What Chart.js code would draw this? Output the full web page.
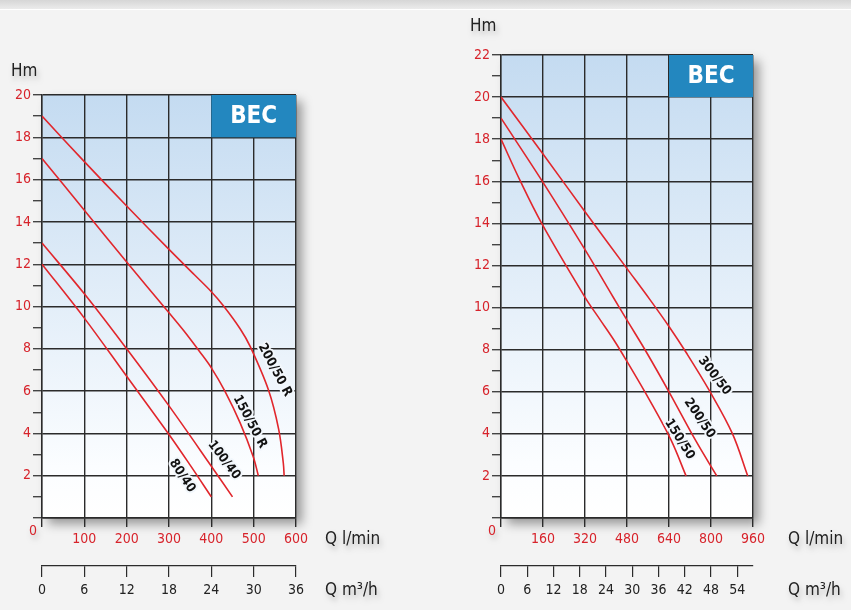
<!DOCTYPE html>
<html>
<head>
<meta charset="utf-8">
<script src="https://cdn.jsdelivr.net/npm/chart.js@4.4.1/dist/chart.umd.min.js"></script>
<style>
  html, body { margin: 0; padding: 0; background: #f3f3f3; }
  #page { position: relative; width: 851px; height: 610px; overflow: hidden; background: #f3f3f3; }
  #band { position: absolute; left: 0; top: 0; width: 851px; height: 9px;
          background: linear-gradient(#d6d6d6, #ebebeb); border-bottom: 1px solid #ffffff; }
  canvas { position: absolute; top: 0; }
  #left { left: 0; }
  #right { left: 425px; }
</style>
</head>
<body>
<div id="page">
  <div id="band"></div>
  <canvas id="left" width="425" height="610"></canvas>
  <canvas id="right" width="426" height="610"></canvas>
</div>
<script>
// ---- BEC pump curves: flow Q (l/min) against head H (m) ----

// left chart
const flowTicksL = [0, 100, 200, 300, 400, 500, 600];
const m3TicksL   = [0, 6, 12, 18, 24, 30, 36];
const headTicksL = [2, 4, 6, 8, 10, 12, 14, 16, 18, 20];

const q200_50R = [0, 100, 200, 300, 360, 400, 428, 468, 492, 535, 559, 570, 572];
const h200_50R = [19, 16.85, 14.75, 12.7, 11.5, 10.7, 10.05, 8.95, 8.1, 6.05, 4.2, 2.6, 2.0];
const q150_50R = [0, 100, 200, 300, 335, 373, 400, 432, 468, 499, 511];
const h150_50R = [17, 14.55, 12.1, 9.7, 8.85, 7.85, 7.1, 6.0, 4.5, 2.9, 2.0];
const q100_40  = [0, 100, 200, 300, 400, 450];
const h100_40  = [13, 10.6, 8.0, 5.3, 2.45, 1.0];
const q80_40   = [0, 100, 200, 300, 350, 400];
const h80_40   = [12, 9.45, 6.7, 3.95, 2.5, 1.0];

// right chart
const flowTicksR = [0, 160, 320, 480, 640, 800, 960];
const m3TicksR   = [0, 6, 12, 18, 24, 30, 36, 42, 48, 54];
const headTicksR = [2, 4, 6, 8, 10, 12, 14, 16, 18, 20, 22];

const q300_50 = [0, 160, 320, 480, 566, 640, 706, 794, 882, 940];
const h300_50 = [20, 17.3, 14.55, 11.85, 10.4, 9.1, 7.85, 6.05, 4.0, 2.0];
const q200_50 = [0, 160, 320, 427, 480, 553, 642, 743, 822];
const h200_50 = [19, 15.95, 12.75, 10.5, 9.4, 7.9, 5.95, 3.65, 2.0];
const q150_50 = [0, 72, 155, 322, 376, 433, 477, 566, 648, 705];
const h150_50 = [18, 16.05, 14.0, 10.45, 9.45, 8.4, 7.5, 5.6, 3.7, 2.0];

const NARROW = "'Liberation Sans Narrow', 'DejaVu Sans Condensed', 'Roboto', sans-serif";
const RED = '#d7232b';
const CURVE = '#e1262c';
const GRID = '#2b2b2b';

function last(a) { return a[a.length - 1]; }

function withShadow(ctx, fn) {
  ctx.save();
  ctx.shadowColor = 'rgba(0,0,0,0.22)';
  ctx.shadowBlur = 5;
  ctx.shadowOffsetX = 2;
  ctx.shadowOffsetY = 4;
  fn();
  ctx.restore();
}

// background, badge, curve names and axis titles
function makeDecor(cfg) {
  return {
    id: 'decor',
    beforeDraw(chart) {
      const { ctx, chartArea: a } = chart;
      ctx.save();
      ctx.shadowColor = 'rgba(0,0,0,0.38)';
      ctx.shadowBlur = 10;
      ctx.shadowOffsetX = 6;
      ctx.shadowOffsetY = 6;
      ctx.fillStyle = '#ffffff';
      ctx.fillRect(a.left, a.top, a.width, a.height);
      ctx.restore();
      const g = ctx.createLinearGradient(0, a.top, 0, a.bottom);
      g.addColorStop(0, '#c4dbf1');
      g.addColorStop(0.88, '#fbfdff');
      g.addColorStop(1, '#ffffff');
      ctx.fillStyle = g;
      ctx.fillRect(a.left, a.top, a.width, a.height);
    },
    beforeDatasetsDraw(chart) {
      const { ctx } = chart;
      const x = chart.scales.x, y = chart.scales.y;
      const b = cfg.badge;
      const l = x.getPixelForValue(b.from), r = x.getPixelForValue(b.to);
      const t = y.getPixelForValue(b.top), btm = y.getPixelForValue(b.bottom);
      ctx.save();
      ctx.fillStyle = '#2387bf';
      ctx.fillRect(l, t, r - l, btm - t);
      ctx.fillStyle = '#ffffff';
      ctx.font = 'bold 24px ' + NARROW;
      ctx.textAlign = 'center';
      ctx.textBaseline = 'middle';
      ctx.fillText('BEC', (l + r) / 2, (t + btm) / 2 + 1);
      ctx.restore();
    },
    afterDatasetsDraw(chart) {
      const { ctx } = chart;
      const x = chart.scales.x, y = chart.scales.y;
      cfg.names.forEach(n => {
        ctx.save();
        ctx.translate(x.getPixelForValue(n.q), y.getPixelForValue(n.h));
        ctx.rotate(n.angle * Math.PI / 180);
        ctx.font = 'bold 13px ' + NARROW;
        ctx.textAlign = 'center';
        ctx.textBaseline = 'middle';
        ctx.lineJoin = 'round';
        ctx.lineWidth = 4;
        ctx.strokeStyle = '#f2f7fc';
        ctx.strokeText(n.text, 0, 0);
        ctx.fillStyle = '#111111';
        ctx.fillText(n.text, 0, 0);
        ctx.restore();
      });
    },
    afterDraw(chart) {
      const { ctx } = chart;
      const a = chart.chartArea;
      const x = chart.scales.x, y = chart.scales.y;
      withShadow(ctx, () => {
        ctx.textBaseline = 'alphabetic';
        ctx.textAlign = 'left';
        ctx.fillStyle = '#222222';
        ctx.font = '17px ' + NARROW;
        ctx.fillText('Hm', a.left + cfg.hm[0], a.top + cfg.hm[1]);
        ctx.fillText('Q l/min', a.right + cfg.qTitle[0], cfg.qTitle[1]);
        ctx.fillText('Q m\u00B3/h', a.right + cfg.qTitle[0], cfg.qTitle[2]);
        // common origin label
        ctx.fillStyle = RED;
        ctx.font = '14px ' + NARROW;
        ctx.textAlign = 'center';
        ctx.textBaseline = 'middle';
        ctx.fillText('0', x.getPixelForValue(0) - 9, y.getPixelForValue(0) + 13);
      });
    }
  };
}

function makeChart(id, cfg) {
  const flowMax = last(cfg.flowTicks);
  const headMax = last(cfg.headTicks);
  const m3Max = flowMax * 0.06;   // l/min -> m3/h
  const tickFont = { family: NARROW, size: 14 };
  return new Chart(document.getElementById(id), {
    type: 'line',
    data: {
      datasets: cfg.series.map(s => ({
        label: s.name,
        data: s.q.map((q, i) => ({ x: q, y: s.h[i] })),
        borderColor: CURVE,
        borderWidth: 1.6,
        pointRadius: 0,
        fill: false,
        tension: 0.35
      }))
    },
    options: {
      responsive: false,
      animation: false,
      devicePixelRatio: 1,
      events: [],
      layout: { padding: cfg.padding },
      plugins: { legend: { display: false }, tooltip: { enabled: false } },
      scales: {
        x: {
          type: 'linear', position: 'bottom', weight: 0,
          min: 0, max: flowMax,
          afterBuildTicks: s => { s.ticks = cfg.flowTicks.map(v => ({ value: v })); },
          afterFit: s => { s.height = 48; s.paddingLeft = 0; s.paddingRight = 0; },
          grid: { color: GRID, lineWidth: 1.4, tickLength: 9, tickColor: GRID },
          border: { color: GRID, width: 1.4 },
          ticks: { color: RED, font: tickFont, padding: 4, maxRotation: 0, autoSkip: false,
                   callback: v => (v === 0 ? '' : String(v)) }
        },
        m3: {
          type: 'linear', axis: 'x', position: 'bottom', weight: 1,
          min: 0, max: m3Max,
          afterBuildTicks: s => { s.ticks = cfg.m3Ticks.map(v => ({ value: v })); },
          afterFit: s => { s.height = 610 - 518 - 48; s.paddingLeft = 0; s.paddingRight = 0; },
          grid: { drawOnChartArea: false, color: GRID, lineWidth: 1.2, tickLength: 11, tickColor: GRID },
          border: { color: GRID, width: 1.2 },
          ticks: { color: '#222222', font: tickFont, padding: 5, maxRotation: 0, autoSkip: false,
                   callback: v => String(v) }
        },
        y: {
          type: 'linear', position: 'left',
          min: 0, max: headMax,
          ticks: {
            stepSize: 1, color: RED, font: tickFont, padding: 2, autoSkip: false,
            callback: v => (cfg.headTicks.includes(v) ? String(v) : '')
          },
          afterFit: s => { s.width = 42; s.paddingTop = 0; s.paddingBottom = 0; },
          grid: {
            color: c => (c.tick && c.tick.value % 2 === 0 ? GRID : 'rgba(0,0,0,0)'),
            lineWidth: 1.4, tickLength: 9, tickColor: '#444444'
          },
          border: { color: GRID, width: 1.4 }
        }
      }
    },
    plugins: [makeDecor(cfg)]
  });
}

makeChart('left', {
  flowTicks: flowTicksL, m3Ticks: m3TicksL, headTicks: headTicksL,
  padding: { left: 0, top: 95, right: 425 - 296, bottom: 0 },
  series: [
    { name: '200/50 R', q: q200_50R, h: h200_50R },
    { name: '150/50 R', q: q150_50R, h: h150_50R },
    { name: '100/40',   q: q100_40,  h: h100_40 },
    { name: '80/40',    q: q80_40,   h: h80_40 }
  ],
  badge: { from: 400, to: 600, bottom: 18, top: 20 },
  names: [
    { text: '200/50 R', q: 550, h: 7.0,  angle: 62 },
    { text: '150/50 R', q: 491, h: 4.55, angle: 62 },
    { text: '100/40',   q: 430, h: 2.74, angle: 53 },
    { text: '80/40',    q: 331, h: 1.99, angle: 57 }
  ],
  hm: [-31, -19],
  qTitle: [29, 544, 595]
});

makeChart('right', {
  flowTicks: flowTicksR, m3Ticks: m3TicksR, headTicks: headTicksR,
  padding: { left: 34, top: 55, right: 426 - 328, bottom: 0 },
  series: [
    { name: '300/50', q: q300_50, h: h300_50 },
    { name: '200/50', q: q200_50, h: h200_50 },
    { name: '150/50', q: q150_50, h: h150_50 }
  ],
  badge: { from: 640, to: 960, bottom: 20, top: 22 },
  names: [
    { text: '300/50', q: 813, h: 6.75, angle: 52 },
    { text: '200/50', q: 756, h: 4.74, angle: 56 },
    { text: '150/50', q: 680, h: 3.74, angle: 58 }
  ],
  hm: [-31, -24],
  qTitle: [35, 544, 595]
});
</script>
</body>
</html>
